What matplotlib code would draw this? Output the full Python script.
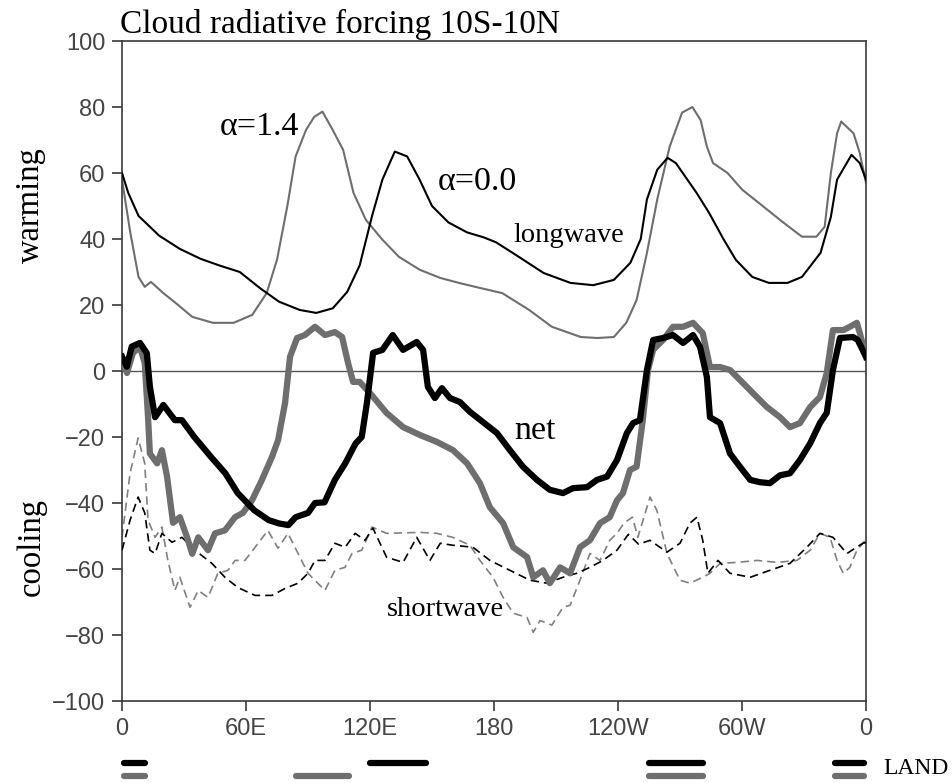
import matplotlib
matplotlib.use("Agg")
import matplotlib.pyplot as plt

# longwave, alpha = 0.0 (black thin)
lw00_lon = [0, 3, 8, 18, 28, 38, 47, 57, 67, 76, 86, 94, 102, 109, 115, 121, 126, 132, 138, 144,
            150, 158, 167, 175, 181, 192, 204, 217, 228, 238, 246, 251, 254, 259, 264, 268, 278, 284, 291, 297,
            305, 313, 322, 329, 338, 343, 346, 353, 357, 360]
lw00_val = [60, 54, 47, 41, 37, 34, 32, 30, 25, 21, 18.5, 17.6, 19, 24, 32, 47, 58, 66.5, 65, 58,
            50, 45, 42, 40.5, 39, 34.6, 29.7, 26.7, 26, 27.6, 32.8, 40, 52, 61, 64.6, 63, 54, 48, 40, 33.7,
            28.5, 26.7, 26.7, 28.5, 35.8, 46.7, 58, 65.5, 63, 58]

# longwave, alpha = 1.4 (grey thin)
lw14_lon = [0, 4, 8, 11, 14, 20, 26, 34, 44, 54, 63, 70, 75, 80, 84, 89, 93, 97, 102, 107, 112,
            118, 126, 134, 144, 154, 163, 173, 184, 197, 208, 222, 230, 238, 244, 249, 254, 259, 265, 271, 276,
            280, 283, 286, 293, 300, 310, 320, 329, 336, 340, 343, 346, 348, 354, 357, 360]
lw14_val = [58, 42, 28.5, 25.5, 27, 23.6, 20.6, 16.4, 14.6, 14.6, 17, 23.6, 33.7, 50, 65, 73, 77, 78.6, 73, 67, 54,
            45.8, 39.8, 34.6, 30.7, 28.2, 26.7, 25.2, 23.6, 18.5, 13.4, 10.3, 10, 10.3, 14.6, 21.5, 35.8, 52, 68, 78.3, 80,
            76, 68, 63, 60, 55, 50, 45, 40.7, 40.7, 43.7, 60, 72, 75.6, 72, 66, 57]

# net, alpha = 0.0 (black thick)
net00_lon = [0, 2.3, 4.7, 8.7, 12, 13.5, 16, 20, 25.6, 29, 35, 43, 50, 56, 64, 71, 76, 80.5, 84, 90,
             93.4, 98, 103, 108, 113, 116, 118.5, 121.5, 126, 131, 136, 142.6, 145.7, 148, 151.4, 154.8, 158.7, 163.5, 168.4, 174.7,
             181.4, 187.7, 194, 200.8, 207, 213.4, 218.2, 225, 229.8, 234.7, 239.5, 244.3, 247.3, 250.6, 254, 257, 261.8, 266.6, 271.5, 276.3,
             279.7, 283, 284.5, 289.4, 294.2, 299, 304, 308.7, 313.5, 318.4, 323.2, 328, 333, 337.7, 341, 344, 347.4, 353.7, 356, 360]
net00_val = [4.3, 1.3, 7.4, 8.5, 5.4, -4.8, -14, -10.3, -14.9, -14.9, -20, -26, -31, -37, -42.2, -45.2, -46.2, -46.7, -44.3, -43,
             -40, -39.8, -33, -28, -22, -20, -9.7, 5.5, 6.4, 10.9, 6.4, 8.8, 6.4, -4.8, -8.2, -5.2, -8.2, -9.4, -12.4, -15.5,
             -18.8, -24, -29, -33, -36, -37, -35.5, -35.2, -33, -32, -27, -18.8, -15.8, -14.9, 0.3, 9.4, 10, 10.9, 8.5, 10.9,
             7.3, -1.8, -14, -15.8, -25, -29, -33, -33.7, -34, -31.6, -31, -27, -21.9, -15.8, -12.7, 0.3, 10, 10.3, 9.4, 4.3]

# net, alpha = 1.4 (grey thick)
net14_lon = [0, 2.4, 5.3, 8.7, 11, 12.6, 13.5, 17, 19.3, 21.8, 24.7, 28, 31.5, 34, 36.9, 41.6, 45, 49.8, 54.7, 58.5,
             62.9, 67.7, 72.6, 75.5, 78.9, 81.3, 84.7, 88.5, 93.4, 98.2, 103, 106.5, 109.4, 111.8, 115, 120, 128, 136, 144.2, 152.4,
             160.2, 167, 173.2, 178, 184.4, 189.3, 196, 199, 203.7, 207, 212, 216.8, 221.6, 226.4, 231.3, 236, 239.5, 242.4, 245.8, 249,
             252, 254.5, 257, 261.8, 266.6, 271.5, 276.3, 281, 284.5, 289.4, 294.2, 299, 305.3, 312, 318.4, 323.2, 328, 333, 337.7, 341,
             344, 349, 352.2, 355.6, 357, 360]
net14_val = [4.3, -0.6, 5.5, 7.3, 2.4, -14, -25, -28, -24, -32, -46, -44.3, -50.4, -55.4, -50.4, -54.3, -49.2, -48.3, -44.3, -43,
             -39.2, -33, -26, -21, -9.7, 4.3, 10, 10.9, 13.4, 10.9, 11.8, 10.3, 2.4, -3.3, -3.3, -6.7, -12.7, -17, -19.4, -21.5,
             -24, -28, -34, -41.3, -46.1, -53.4, -56.4, -62.5, -60.4, -64.3, -59.5, -61.3, -53.4, -51.3, -46.1, -44.3, -39.2, -37, -30, -29,
             -14.9, 0.3, 6.4, 9.4, 13.4, 13.4, 14.6, 11.5, 1.2, 1.2, 0.3, -2.7, -6.7, -10.9, -14, -17, -15.8, -10.9, -7.9, -0.6,
             12.4, 12.4, 13.4, 14.6, 11.5, 4.3]

# shortwave, alpha = 0.0 (black dashed)
sw00_lon = [0, 3.9, 7.8, 11, 13.5, 16, 19.3, 24.2, 29, 35.3, 43.5, 49.8, 56, 64.4, 72.6, 78.9, 85.2, 90, 93.4, 98.2,
            103, 108, 112.8, 117.6, 121.4, 128, 136, 142.6, 149, 154, 160, 169.8, 178, 187.7, 197.4, 205.6, 213.4, 220, 226.4, 232.7,
            239.5, 245, 250, 255.5, 263.7, 270, 274.8, 278.2, 281, 283.5, 288.4, 294.2, 304, 313.5, 323.2, 331.4, 337.7, 344, 350.8, 354.7,
            358.5, 360]
sw00_val = [-54.3, -45.2, -38.2, -43, -54.3, -55.3, -49.2, -51.9, -50.4, -54.3, -58.3, -62.5, -65.6, -68, -68, -65.9, -64.3, -61.3, -57.4, -57.4,
            -52.2, -53.4, -49.2, -51.3, -47.6, -56.4, -58, -50.4, -57.4, -52.2, -52.8, -53.4, -57.4, -60.4, -63.4, -64.3, -62.5, -61.3, -59.5, -57.4,
            -54.3, -49.5, -52.5, -51.3, -54.9, -52.2, -46.1, -44.3, -51.3, -61.3, -57.4, -61.3, -62.5, -60.4, -58.3, -53.4, -49.2, -50.4, -55.3, -53.7,
            -52.2, -52]

# shortwave, alpha = 1.4 (grey dashed)
sw14_lon = [0, 3.9, 7.8, 11, 12.6, 16, 19.3, 22.2, 25.6, 28, 32.9, 36.9, 41.6, 46.4, 51.3, 54.7, 59.5, 64.4, 70.6, 75.5,
            80.3, 85.2, 90, 98.2, 103, 107.9, 111.3, 116, 121, 128, 144.2, 152.4, 160, 168.4, 173.2, 179.5, 184.4, 189.3, 196, 199,
            202.3, 208, 213.4, 216.8, 221.6, 226.4, 231.3, 236, 239.5, 243, 247, 249.6, 255.5, 258.8, 263.7, 270, 274.8, 281, 284.5, 289.4,
            297.5, 307.3, 317, 326.6, 333, 337.7, 342.6, 346, 349, 352.2, 355.6, 358.5, 360]
sw14_val = [-50.4, -31, -20.3, -28, -45.2, -50.4, -47.3, -57.4, -66.5, -62.5, -71.6, -66.5, -68.6, -61.3, -60.4, -57.4, -57.4, -53.4, -48.3, -53.7,
            -49.2, -55.3, -61.3, -66.5, -60.4, -59.5, -55.3, -54.3, -47.3, -49.2, -48.9, -49.2, -50.4, -52.8, -57.4, -62.5, -68.6, -73.4, -74.7, -79.2,
            -75.6, -77, -71.6, -71, -63.4, -55.3, -57.4, -51.3, -49.2, -46, -44.3, -50.4, -38.2, -42.2, -55.3, -63.4, -64.3, -62.5, -61.3, -58.3,
            -58, -57.4, -58, -57.4, -54.3, -49.2, -50.4, -57.4, -61.3, -59.5, -54.3, -52.2, -51]

# land segments (longitude ranges) under the axis
land00 = [(1, 11), (120, 147), (255, 281), (345, 359)]
land14 = [(1, 11), (84, 110), (255, 281), (345, 359)]

xticks = [0, 60, 120, 180, 240, 300, 360]
xtick_labels = ["0", "60E", "120E", "180", "120W", "60W", "0"]
yticks = list(range(-100, 101, 20))

serif = ["Liberation Serif", "DejaVu Serif"]
sans = ["Liberation Sans", "DejaVu Sans"]
axcol = "#3a3a3a"
grey = "#6e6e6e"

fig = plt.figure(figsize=(9.52, 7.83), dpi=100)
ax = fig.add_axes([122 / 952, 82 / 783, 744 / 952, 660 / 783])

ax.axhline(0, color="#555555", lw=1.0, zorder=1)

ax.plot(lw00_lon, lw00_val, color="black", lw=1.5, zorder=3)
ax.plot(lw14_lon, lw14_val, color=grey, lw=1.5, zorder=2)
ax.plot(sw00_lon, sw00_val, color="black", lw=1.2, ls=(0, (5, 3)), zorder=3)
ax.plot(sw14_lon, sw14_val, color="#808080", lw=1.2, ls=(0, (5, 3)), zorder=2)
ax.plot(net14_lon, net14_val, color=grey, lw=4.5, zorder=4, solid_joinstyle="round")
ax.plot(net00_lon, net00_val, color="black", lw=4.5, zorder=5, solid_joinstyle="round")

ax.set_xlim(0, 360)
ax.set_ylim(-100, 100)
ax.set_xticks(xticks)
ax.set_xticklabels(xtick_labels)
ax.set_yticks(yticks)
ax.set_yticklabels([str(v).replace("-", "\u2212") for v in yticks])
ax.tick_params(direction="out", length=7, width=1.2, color=axcol, labelcolor="#454545",
               labelsize=17, pad=5)
for lab in ax.get_xticklabels() + ax.get_yticklabels():
    lab.set_family(sans)
for sp in ax.spines.values():
    sp.set_color(axcol)
    sp.set_linewidth(1.2)

# land bars below the plot
for a, b in land00:
    ax.plot([a, b], [-118.7, -118.7], color="black", lw=4.5, solid_capstyle="round", clip_on=False)
for a, b in land14:
    ax.plot([a, b], [-122.6, -122.6], color=grey, lw=4.5, solid_capstyle="round", clip_on=False)

fig.text(120 / 952, 1 - 33 / 783, "Cloud radiative forcing 10S-10N", family=serif,
         fontsize=24, va="baseline", ha="left")
fig.text(31 / 952, 1 - 205 / 783, "warming", family=serif, fontsize=23.5,
         rotation=90, ha="center", va="center")
fig.text(31 / 952, 1 - 547 / 783, "cooling", family=serif, fontsize=23.5,
         rotation=90, ha="center", va="center")
fig.text(259 / 952, 1 - 127 / 783, "\u03b1=1.4", family=serif, fontsize=24.5, ha="center", va="center")
fig.text(477 / 952, 1 - 182 / 783, "\u03b1=0.0", family=serif, fontsize=24.5, ha="center", va="center")
fig.text(569 / 952, 1 - 235 / 783, "longwave", family=serif, fontsize=20.5, ha="center", va="center")
fig.text(535 / 952, 1 - 431 / 783, "net", family=serif, fontsize=24.5, ha="center", va="center")
fig.text(445 / 952, 1 - 609 / 783, "shortwave", family=serif, fontsize=20.5, ha="center", va="center")
fig.text(883 / 952, 1 - 769 / 783, "LAND", family=serif, fontsize=17, ha="left", va="center")

fig.savefig("out.png", dpi=100)
